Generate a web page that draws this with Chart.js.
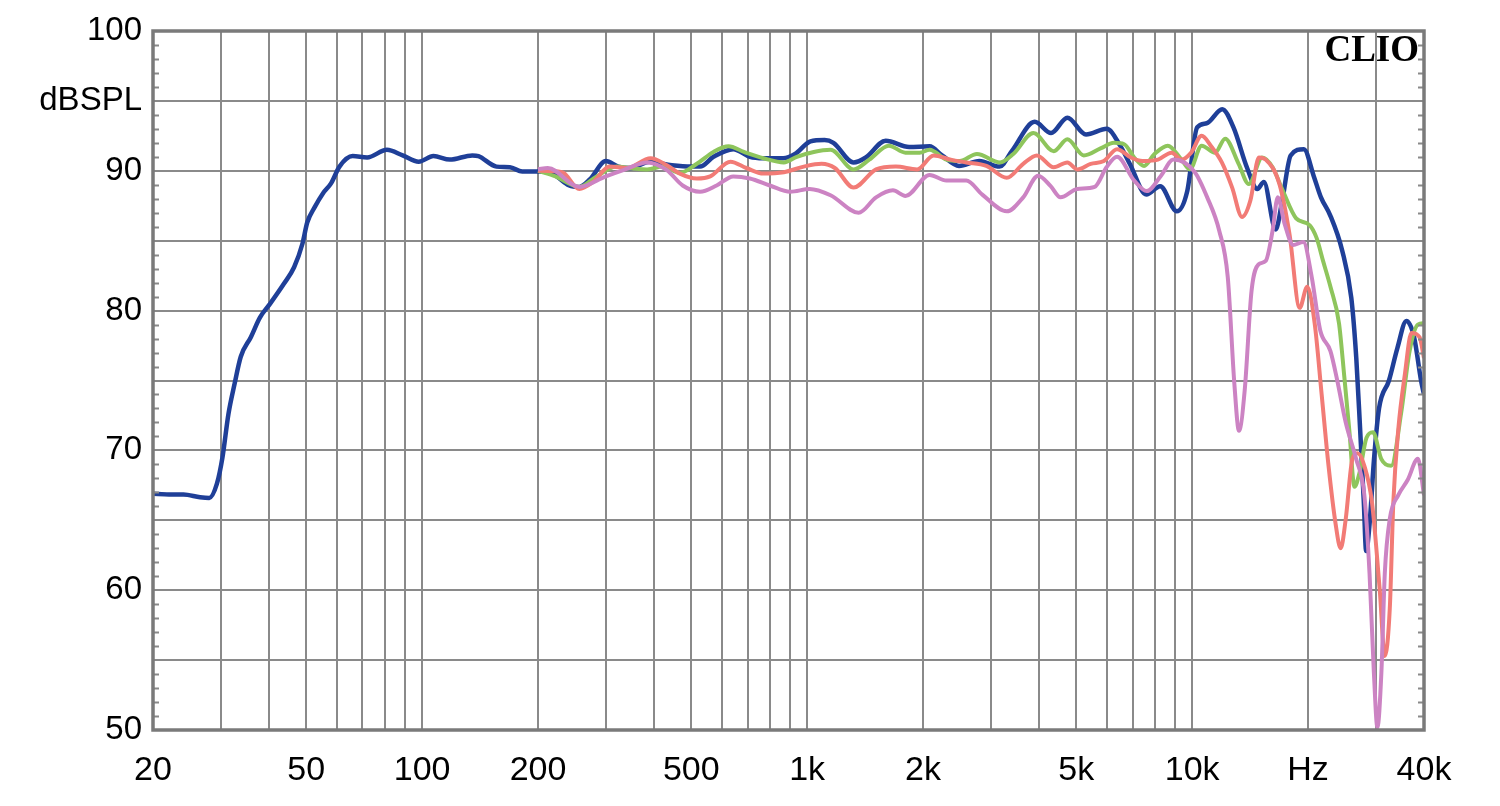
<!DOCTYPE html>
<html>
<head>
<meta charset="utf-8">
<title>CLIO frequency response</title>
<script src="https://cdn.jsdelivr.net/npm/chart.js@4.4.1/dist/chart.umd.min.js"></script>
<style>
  html, body { margin: 0; padding: 0; background: #fff; }
  #wrap { width: 1500px; height: 806px; position: relative; }
</style>
</head>
<body>
<div id="wrap"><canvas id="responseChart"></canvas></div>
<script>
// Axis setup (Hz on a log scale, dB SPL linear)
const xGridFreqs = [20, 30, 40, 50, 60, 70, 80, 90,
    100, 200, 300, 400, 500, 600, 700, 800, 900,
    1000, 2000, 3000, 4000, 5000, 6000, 7000, 8000, 9000,
    10000, 20000, 30000, 40000];
const xTickLabels = { 20: '20', 50: '50', 100: '100', 200: '200', 500: '500',
    1000: '1k', 2000: '2k', 5000: '5k', 10000: '10k', 20000: 'Hz', 40000: '40k' };
const yTickLabels = { 100: '100', 95: 'dBSPL', 90: '90', 80: '80', 70: '70', 60: '60', 50: '50' };

// Blue curve (full range)
const blueFreq = [20, 22, 24, 26.5, 28, 29.3, 30.3, 31.4, 32.6, 33.8, 35.9, 37.9, 40.3, 43.7, 46.5, 48.9,
    50.3, 52.6, 55.3, 58, 61, 66, 72, 81, 89, 98, 107, 118, 135, 140, 156, 169, 182,
    202, 218, 241, 256, 273, 300, 323, 347, 390, 445, 500, 527, 571, 643, 710, 770, 866, 930,
    1020, 1110, 1170, 1320, 1420, 1600, 1840, 2080, 2240, 2480, 2800, 3160, 3400, 3900, 4300, 4740,
    5300, 6000, 6500, 6900, 7600, 8260, 9120, 9700, 10300, 10900, 11970, 12800, 13890, 14760,
    15350, 16470, 17140, 18020, 19500, 20700, 21600, 22840, 24520, 25900, 26680, 27300, 27900,
    28300, 28900, 29670, 30570, 32440, 34100, 36000, 37700, 39300, 40000];
const blueDb = [66.9, 66.85, 66.85, 66.65, 66.6, 67.6, 69.5, 72.6, 74.8, 76.7, 78.1, 79.5, 80.5, 81.9, 83.1, 84.8,
    86.3, 87.4, 88.4, 89.1, 90.3, 91.05, 90.95, 91.5, 91.1, 90.65, 91.05, 90.8, 91.1, 91.05, 90.3, 90.25, 89.95,
    89.95, 89.8, 88.95, 88.85, 89.4, 90.7, 90.3, 90.2, 90.65, 90.4, 90.3, 90.3, 91.0, 91.55, 91.0, 90.9, 90.9, 91.2,
    92.1, 92.2, 92.0, 90.6, 90.95, 92.15, 91.7, 91.75, 91.1, 90.35, 90.7, 90.3, 91.4, 93.5, 92.7, 93.8,
    92.6, 93.0, 91.8, 90.45, 88.3, 88.9, 87.1, 88.5, 93.1, 93.4, 94.4, 93.1, 90.2, 88.7,
    89.2, 85.8, 87.9, 91.1, 91.55, 89.6, 88.1, 86.8, 84.3, 80.9, 76.6, 71.5, 66.4,
    62.8, 64.8, 69.4, 73.0, 75.0, 77.3, 79.25, 78.1, 75.0, 74.0];

// Green curve (from 200 Hz)
const greenFreq = [200, 222, 256, 284, 320, 347, 384, 422, 467, 517, 571, 625, 685, 770, 870, 940,
    1040, 1150, 1320, 1450, 1630, 1800, 1960, 2080, 2300, 2490, 2760, 3170, 3430, 3870, 4370, 4740,
    5230, 5780, 6260, 6660, 7070, 7500, 7980, 8640, 9380, 9860, 10580, 11470, 12180, 13200, 14030,
    15200, 16170, 17180, 18620, 20200, 21040, 21900, 22860, 24060, 24830, 25580, 26400, 27200,
    28360, 29500, 30970, 32870, 34900, 36700, 38560, 40000];
const greenDb = [90.0, 89.6, 88.85, 89.6, 90.3, 90.2, 90.1, 90.3, 89.85, 90.5, 91.35, 91.75, 91.35, 90.9, 90.6, 91.0,
    91.35, 91.5, 90.1, 90.8, 91.8, 91.3, 91.3, 91.5, 90.8, 90.7, 91.2, 90.6, 91.2, 92.7, 91.4, 92.25,
    91.1, 91.6, 92.0, 91.9, 90.95, 90.35, 91.2, 91.8, 90.8, 90.1, 91.8, 91.3, 92.3, 90.5, 89.05,
    90.95, 90.25, 88.6, 86.6, 86.1, 85.2, 83.5, 81.7, 79.1, 75.3, 71.5, 67.4, 68.4,
    70.9, 71.3, 69.4, 68.9, 72.7, 77.1, 79.0, 79.1];

// Red curve (from 200 Hz)
const redFreq = [200, 231, 256, 278, 307, 340, 392, 432, 467, 517, 560, 632, 695, 770, 870, 980,
    1090, 1180, 1320, 1510, 1700, 1930, 2130, 2360, 2590, 2920, 3300, 3640, 3950, 4370, 4740, 5030,
    5450, 5900, 6380, 6930, 7430, 8150, 8840, 9380, 9940, 10580, 11240, 11940, 12700, 13470, 14170,
    14900, 15520, 16850, 17890, 19020, 19890, 20800, 21690, 22600, 23560, 24300, 25050, 26070,
    26900, 28000, 29300, 30700, 31640, 32600, 33300, 34300, 35700, 37100, 38940, 40000];
const redDb = [90.0, 89.9, 88.7, 89.2, 90.3, 90.2, 90.9, 90.4, 89.8, 89.45, 89.6, 90.65, 90.2, 89.8, 89.9, 90.3,
    90.5, 90.2, 88.8, 90.1, 90.3, 90.1, 91.1, 90.8, 90.6, 90.35, 89.5, 90.5, 91.1, 90.25, 90.6, 90.1,
    90.5, 90.7, 91.55, 90.95, 90.7, 90.8, 91.3, 90.8, 91.3, 92.5, 91.7, 90.6, 88.8, 86.7, 87.9,
    90.95, 90.8, 89.05, 85.5, 80.2, 81.7, 79.1, 74.0, 68.9, 64.8, 63.0, 65.1, 69.4,
    69.8, 68.9, 66.3, 60.0, 55.3, 58.7, 66.3, 71.5, 75.5, 78.4, 78.1, 76.6];

// Pink curve (from 200 Hz)
const pinkFreq = [200, 212, 256, 300, 333, 384, 432, 475, 527, 582, 643, 710, 800, 904, 1015, 1150,
    1360, 1510, 1670, 1800, 2080, 2300, 2590, 2850, 3300, 3640, 3980, 4290, 4550, 5030, 5580, 5990,
    6380, 7070, 7620, 8300, 8930, 10160, 10940, 11760, 12370, 12870, 13230, 13690, 14260, 14860,
    15520, 16170, 16680, 17380, 18290, 19440, 20440, 21500, 22860, 23810, 25050, 26650, 28000,
    28880, 29640, 30270, 31000, 31640, 32600, 34300, 36300, 38560, 40000];
const pinkDb = [90.1, 90.2, 88.85, 89.6, 90.05, 90.6, 90.05, 88.95, 88.5, 88.95, 89.6, 89.45, 88.95, 88.5, 88.7, 88.25,
    87.0, 88.1, 88.6, 88.2, 89.7, 89.3, 89.3, 88.3, 87.1, 88.1, 89.65, 88.9, 88.1, 88.7, 88.85, 90.25,
    91.0, 89.3, 88.55, 89.65, 90.8, 89.9, 88.1, 85.7, 82.4, 74.75, 71.4, 74.3, 81.4, 83.3,
    83.55, 85.7, 88.1, 86.2, 84.7, 84.9, 82.4, 78.6, 77.1, 75.0, 72.0, 69.4, 66.8,
    61.2, 54.1, 50.2, 54.1, 61.2, 65.1, 66.8, 67.9, 69.4, 66.8];

const toPoints = (freqs, dbs) => freqs.map((f, i) => ({ x: f, y: dbs[i] }));

// Frame, minor dB ticks on both sides and the CLIO tag
const framePlugin = {
    id: 'frame',
    afterDraw(chart) {
        const { ctx, chartArea } = chart;
        const { left, top, right, bottom } = chartArea;
        const yScale = chart.scales.y;
        ctx.save();
        ctx.strokeStyle = '#8a8a8a';
        ctx.lineWidth = 2;
        for (let v = 51; v < 100; v++) {
            if (v % 5 === 0) continue;
            const py = Math.round(yScale.getPixelForValue(v)) + 0.5;
            ctx.beginPath();
            ctx.moveTo(left, py); ctx.lineTo(left + 6, py);
            ctx.moveTo(right - 6, py); ctx.lineTo(right, py);
            ctx.stroke();
        }
        ctx.strokeStyle = '#7a7a7a';
        ctx.lineWidth = 3.5;
        ctx.strokeRect(left, top, right - left, bottom - top);

        ctx.fillStyle = '#000';
        ctx.font = "bold 37px 'Liberation Serif', 'Times New Roman', serif";
        ctx.textAlign = 'right';
        ctx.textBaseline = 'alphabetic';
        ctx.fillText('CLIO', right - 5, top + 30);
        ctx.restore();
    }
};

const lineStyle = (color, width) => ({
    borderColor: color,
    backgroundColor: color,
    borderWidth: width,
    pointRadius: 0,
    fill: false,
    cubicInterpolationMode: 'monotone'
});

new Chart(document.getElementById('responseChart').getContext('2d'), {
    type: 'line',
    data: {
        datasets: [
            { label: 'pink', data: toPoints(pinkFreq, pinkDb), ...lineStyle('#cc83c3', 4) },
            { label: 'red', data: toPoints(redFreq, redDb), ...lineStyle('#f27b76', 4) },
            { label: 'green', data: toPoints(greenFreq, greenDb), ...lineStyle('#8ec55c', 4) },
            { label: 'blue', data: toPoints(blueFreq, blueDb), ...lineStyle('#1f3f98', 4.5) }
        ]
    },
    options: {
        responsive: true,
        maintainAspectRatio: false,
        animation: false,
        layout: { padding: { top: 31, right: 76, left: 0, bottom: 0 } },
        plugins: {
            legend: { display: false },
            tooltip: { enabled: false }
        },
        scales: {
            x: {
                type: 'logarithmic',
                min: 20,
                max: 40000,
                afterBuildTicks: (scale) => {
                    scale.ticks = xGridFreqs.map(v => ({ value: v }));
                },
                afterFit: (scale) => { scale.height = 76; },
                ticks: {
                    autoSkip: false,
                    maxRotation: 0,
                    padding: 20,
                    color: '#000',
                    font: { family: "'Liberation Sans', Arial, sans-serif", size: 34 },
                    callback: (value) => xTickLabels[value] || ''
                },
                grid: { color: '#8a8a8a', lineWidth: 2, drawTicks: false },
                border: { display: false }
            },
            y: {
                type: 'linear',
                min: 50,
                max: 100,
                afterFit: (scale) => { scale.width = 153; },
                ticks: {
                    stepSize: 5,
                    padding: 11,
                    color: '#000',
                    font: { family: "'Liberation Sans', Arial, sans-serif", size: 33 },
                    callback: (value) => yTickLabels[value] || ''
                },
                grid: { color: '#8a8a8a', lineWidth: 2, drawTicks: false },
                border: { display: false }
            }
        }
    },
    plugins: [framePlugin]
});
</script>
</body>
</html>
